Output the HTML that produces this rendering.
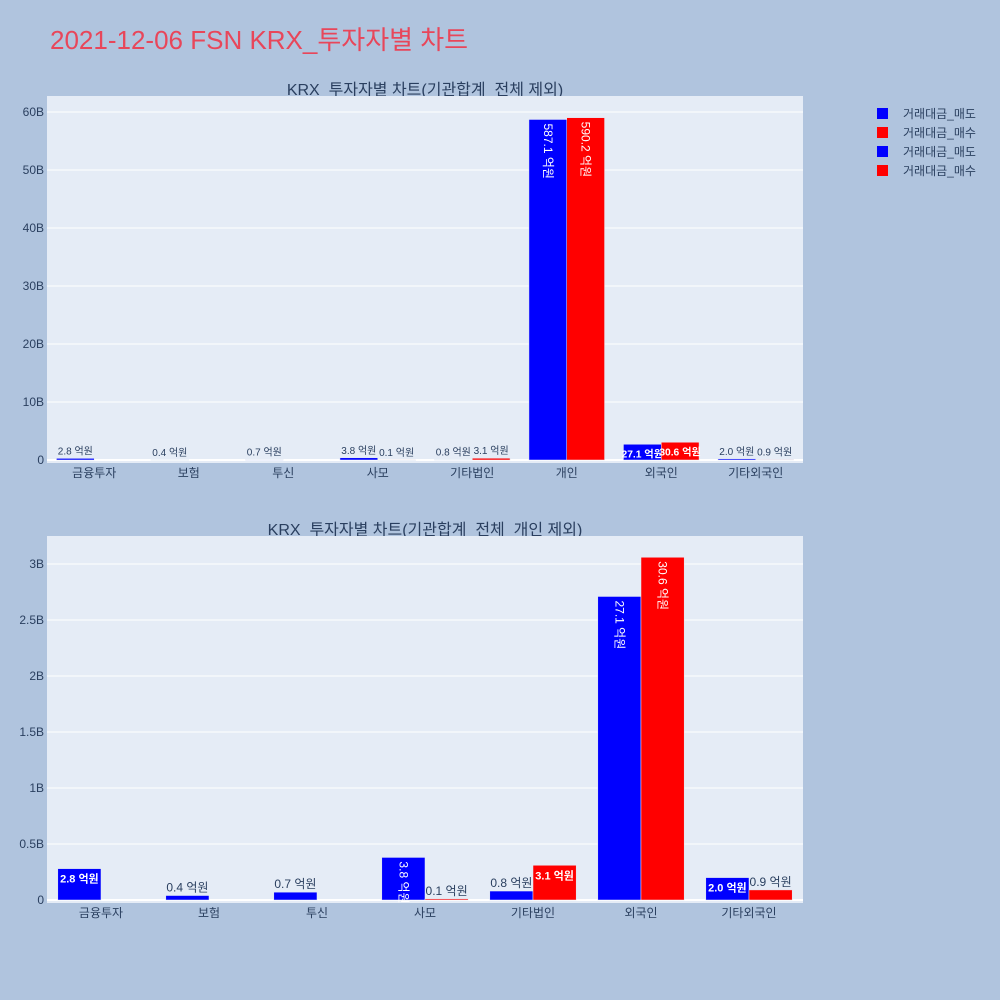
<!DOCTYPE html>
<html><head><meta charset="utf-8"><style>
body{margin:0;background:#b0c4de;}
svg{display:block;font-family:"Liberation Sans","Noto Sans CJK KR",sans-serif;}
</style></head><body>
<svg id="s" width="1000" height="1000" xmlns="http://www.w3.org/2000/svg">
<rect width="1000" height="1000" fill="#b0c4de"/>
<text x="50" y="49" font-size="26" fill="#e8465a">2021-12-06 FSN KRX_투자자별 차트</text>
<text x="425" y="95" font-size="16" fill="#2a3f5f" text-anchor="middle">KRX_투자자별 차트(기관합계_전체 제외)</text>
<text x="425" y="535" font-size="16" fill="#2a3f5f" text-anchor="middle">KRX_투자자별 차트(기관합계_전체_개인 제외)</text>
<g>
<rect x="877" y="108" width="11" height="11" fill="#0000ff"/>
<text x="903" y="118" font-size="12" fill="#2a3f5f">거래대금_매도</text>
<rect x="877" y="127" width="11" height="11" fill="#ff0000"/>
<text x="903" y="137" font-size="12" fill="#2a3f5f">거래대금_매수</text>
<rect x="877" y="146" width="11" height="11" fill="#0000ff"/>
<text x="903" y="156" font-size="12" fill="#2a3f5f">거래대금_매도</text>
<rect x="877" y="165" width="11" height="11" fill="#ff0000"/>
<text x="903" y="175" font-size="12" fill="#2a3f5f">거래대금_매수</text>
</g>
</svg>
<script>
const topCats=["금융투자","보험","투신","사모","기타법인","개인","외국인","기타외국인"];
const topSell=[2.8,0.4,0.7,3.8,0.8,587.1,27.1,2.0];
const topBuy=[0,0,0,0.1,3.1,590.2,30.6,0.9];
const topTicks=[0,10,20,30,40,50,60];
const botCats=["금융투자","보험","투신","사모","기타법인","외국인","기타외국인"];
const botSell=[2.8,0.4,0.7,3.8,0.8,27.1,2.0];
const botBuy=[0,0,0,0.1,3.1,30.6,0.9];
const botTicks=[0,0.5,1,1.5,2,2.5,3];

const NS="http://www.w3.org/2000/svg";
const svg=document.getElementById('s');
function mk(tag,attrs,parent){const e=document.createElementNS(NS,tag);for(const k in attrs)e.setAttribute(k,attrs[k]);(parent||svg).appendChild(e);return e;}

function drawChart(prefix,cats,sell,buy,ticks,tickFmt,x0,x1,y0,y1,zeroY,topTickY,maxTick){
  const g=mk('g',{});
  
  
  const bg=mk('rect',{x:x0,y:y0,width:x1-x0,height:y1-y0,fill:'#e5ecf6'},g);
  
  
  // values in 억원; ticks in B (1B = 10억원)
  const yScale=v=>zeroY-(v/10)/maxTick*(zeroY-topTickY);
  ticks.forEach(t=>{
    const y=zeroY-t/maxTick*(zeroY-topTickY);
    const l=mk('line',{x1:x0,x2:x1,y1:y,y2:y,stroke:'#fff','stroke-width':t===0?2:1},g);
    
    
    const tx=mk('text',{x:x0-3,y:y+4,'font-size':12,fill:'#2a3f5f','text-anchor':'end'},g);
    
    
    tx.textContent=tickFmt(t);
  });
  const n=cats.length, cw=(x1-x0)/n, bw=cw*0.4;
  cats.forEach((c,i)=>{
    const cx=x0+cw*(i+0.5);
    const lab=mk('text',{x:cx,y:y1+14,'font-size':12,fill:'#2a3f5f','text-anchor':'middle'},g);
    
    
    lab.textContent=c;
    [[sell[i],'#0000ff',cx-bw,'sell'],[buy[i],'#ff0000',cx,'buy']].forEach(([v,col,bx,nm])=>{
      const yt=yScale(v), h=zeroY-yt;
      if(v>0){
        const r=mk('rect',{x:bx,y:yt,width:bw,height:Math.max(h,0.5),fill:col,stroke:'#e5ecf6','stroke-width':0.5},g);
        
        
      } else return;
      const str=v.toFixed(1)+' 억원';
      let t;
      if(h>=40){
        t=mk('text',{x:bx+bw/2-4,y:yt+4,'font-size':12,fill:'#fff',transform:`rotate(90 ${bx+bw/2-4} ${yt+4})`},g);
      } else if(h>=14){
        const fs=Math.min(11,bw/str.length*1.9);
        t=mk('text',{x:bx+bw/2,y:yt+fs+3,'font-size':fs,fill:'#fff','font-weight':'bold','text-anchor':'middle'},g);
      } else {
        t=mk('text',{x:bx+bw/2,y:yt-4,'font-size':prefix==='top'?10:12,fill:'#2a3f5f','text-anchor':'middle'},g);
      }
      
      
      t.textContent=str;
    });
  });
}
drawChart('top',topCats,topSell,topBuy,topTicks,t=>t===0?'0':t+'B',47,803,96,463,460,112,60);
drawChart('bottom',botCats,botSell,botBuy,botTicks,t=>t===0?'0':t+'B',47,803,536,903,900,564,3);
</script>
</body></html>
